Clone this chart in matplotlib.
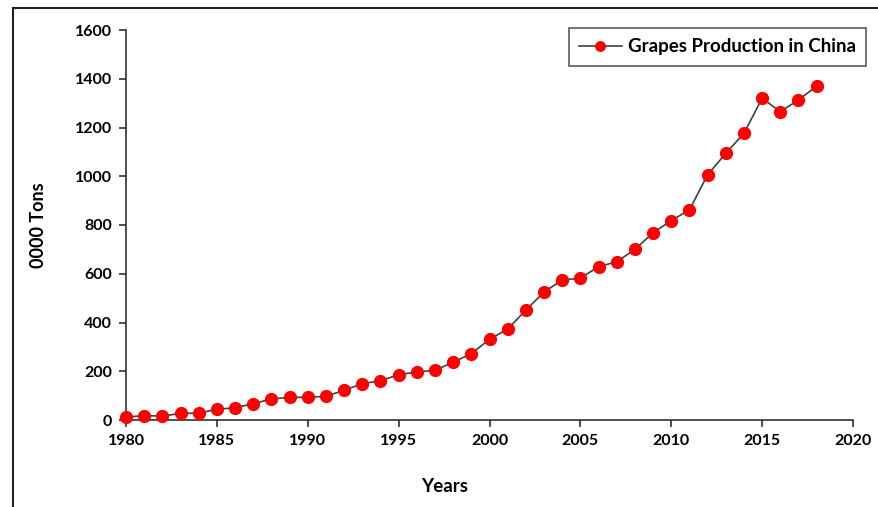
import matplotlib
matplotlib.use("Agg")
import matplotlib.pyplot as plt
from matplotlib.lines import Line2D

years = list(range(1980, 2019))
production = [12, 18, 16, 27, 28, 44, 50, 67, 86, 93, 93, 97, 122, 149, 161, 186, 197, 204,
              237, 272, 331, 373, 451, 525, 574, 582, 629, 649, 700, 768, 818, 862, 1006,
              1094, 1176, 1320, 1265, 1313, 1370]
x_ticks = list(range(1980, 2021, 5))
y_ticks = list(range(0, 1601, 200))

plt.rcParams['font.family'] = ['Lato', 'DejaVu Sans']
plt.rcParams['font.weight'] = 'bold'

W, H = 879, 507
fig = plt.figure(figsize=(W / 100, H / 100), dpi=100)
ax = fig.add_axes([126 / W, 1 - 420 / H, (853 - 126) / W, (420 - 30) / H])

ax.plot(years, production, color='#404040', lw=1.2, marker='o', markersize=8.5,
        markerfacecolor='#ff0000', markeredgecolor='#ff0000', label='Grapes Production in China',
        clip_on=False, zorder=3)

ax.set_xlim(1980, 2020)
ax.set_ylim(0, 1600)
ax.set_xticks(x_ticks)
ax.set_yticks(y_ticks)
ax.spines['top'].set_visible(False)
ax.spines['right'].set_visible(False)
for s in ['left', 'bottom']:
    ax.spines[s].set_color('#303030')
    ax.spines[s].set_linewidth(1.2)
ax.tick_params(axis='both', direction='out', length=5, width=1.2, color='#303030',
               labelsize=11.5, pad=5)
for lab in ax.get_xticklabels() + ax.get_yticklabels():
    lab.set_fontweight('bold')

fig.text(38 / W, 1 - 225 / H, '0000 Tons', rotation=90, ha='center', va='center',
         fontsize=13, fontweight='bold')
fig.text(445 / W, 1 - 487 / H, 'Years', ha='center', va='center',
         fontsize=13.5, fontweight='bold')

leg = ax.legend(loc='upper right', bbox_to_anchor=((866 - 126) / (853 - 126), 1 + 2 / 390),
                frameon=True, fancybox=False, edgecolor='#303030', fontsize=13.5,
                handlelength=2.3, borderpad=0.55, handletextpad=0.3, markerscale=0.8,
                borderaxespad=0)
leg.get_frame().set_linewidth(1.2)
for t in leg.get_texts():
    t.set_fontweight('bold')

# figure border (left and top visible)
fig.add_artist(Line2D([13 / W, 13 / W], [0, 1 - 8 / H], transform=fig.transFigure,
                      color='#202020', lw=1.5))
fig.add_artist(Line2D([13 / W, 1], [1 - 8 / H, 1 - 8 / H], transform=fig.transFigure,
                      color='#202020', lw=1.5))

fig.savefig('out.png', dpi=100, facecolor='white')
